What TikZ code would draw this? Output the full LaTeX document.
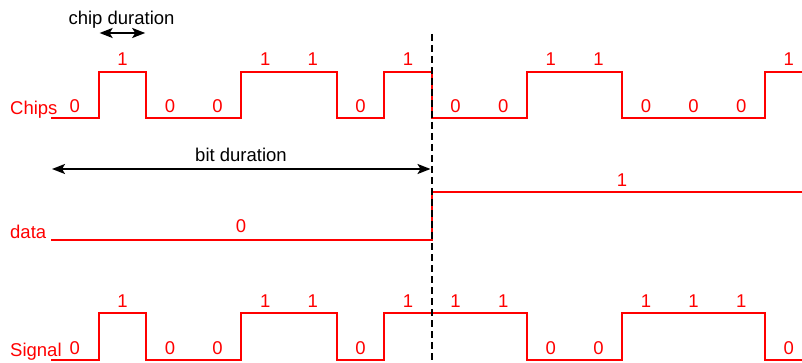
\documentclass[tikz,border=0pt]{standalone}
\usepackage{fontspec}
\setmainfont{Liberation Sans}
\usetikzlibrary{arrows.meta}
\definecolor{waveRed}{RGB}{255,0,0}
\definecolor{markBlack}{RGB}{0,0,0}
\tikzset{
  wave/.style={draw=waveRed, line width=2pt, line join=miter},
  bitlbl/.style={font=\fontsize{18.5}{22}\selectfont, text=waveRed, inner sep=0pt},
  rowlbl/.style={font=\fontsize{18.5}{22}\selectfont, text=waveRed, inner sep=0pt, anchor=base west},
  durlbl/.style={font=\fontsize{18.5}{22}\selectfont, text=markBlack, inner sep=0pt, anchor=base},
  durArrow/.style={{Stealth[length=13pt,width=10pt,inset=3pt]}-{Stealth[length=13pt,width=10pt,inset=3pt]}, line width=2pt, color=markBlack},
  bitEdge/.style={draw=markBlack, line width=1.8pt, dash pattern=on 7pt off 4pt}
}

\begin{document}
\begin{tikzpicture}[x=1pt, y=-1pt]
    \useasboundingbox (0,0) rectangle (802,363);

    % row names
    \node[rowlbl] (chipsName)  at (10,115) {Chips};
    \node[rowlbl] (dataName)   at (10,238) {data};
    \node[rowlbl] (signalName) at (10,356) {Signal};

    % waveforms
    \draw[wave] (51,118) -| (98.6,72) -| (146.2,118) -| (241.4,72) -| (336.6,118)
          -| (384.2,72) -| (431.8,118) -| (527,72) -| (622.2,118) -| (765,72) -- (812,72);
    \draw[wave] (51,240) -| (431.8,192) -- (812,192);
    \draw[wave] (51,360) -| (98.6,313) -| (146.2,360) -| (241.4,313) -| (336.6,360)
          -| (384.2,313) -| (527,360) -| (622.2,313) -| (765,360) -- (812,360);

    % chip and signal values
    \foreach \v [count=\i from 0] in {0,1,0,0,1,1,0,1,0,0,1,1,0,0,0,1}
      \node[bitlbl] (chip\i) at ({51+47.6*(\i+0.5)}, {106-47*\v}) {\v};
    \foreach \v [count=\i from 0] in {0,1,0,0,1,1,0,1,1,1,0,0,1,1,1,0}
      \node[bitlbl] (sig\i) at ({51+47.6*(\i+0.5)}, {348-47*\v}) {\v};
    \node[bitlbl] (data0) at (241,226) {0};
    \node[bitlbl] (data1) at (622,180) {1};

    % durations
    \coordinate (chipL) at (99.6,33);
    \coordinate (chipR) at (145.2,33);
    \draw[durArrow] (chipL) -- (chipR);
    \node[durlbl] (chipDur) at (121.5,25) {chip duration};
    \coordinate (bitL) at (52,169);
    \coordinate (bitR) at (430.5,169);
    \draw[durArrow] (bitL) -- (bitR);
    \node[durlbl] (bitDur) at (241,162) {bit duration};

    % bit boundary
    \coordinate (edgeTop) at (431.8,34);
    \coordinate (edgeBot) at (431.8,363);
    \draw[bitEdge] (edgeTop) -- (edgeBot);
\end{tikzpicture}
\end{document}
